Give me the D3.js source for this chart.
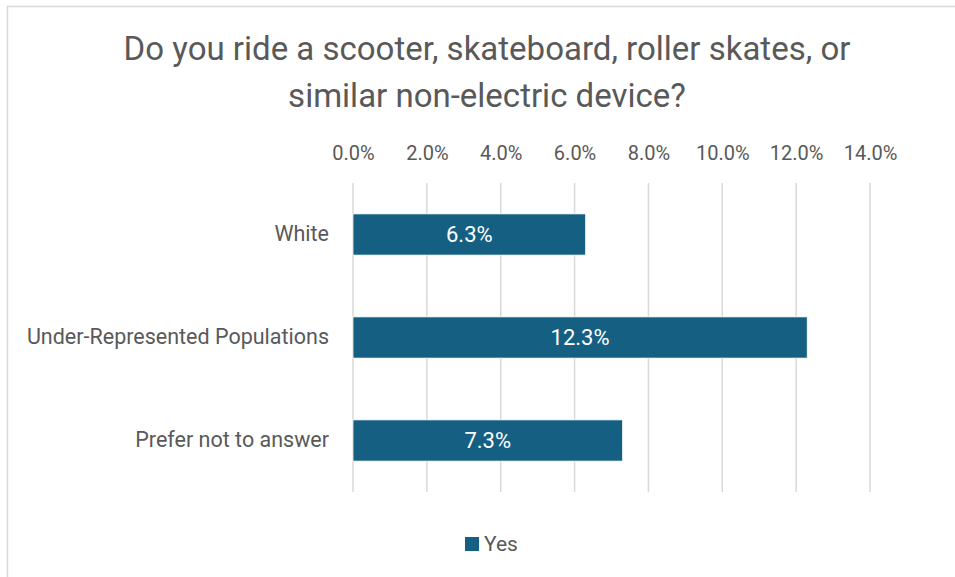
<!DOCTYPE html>
<html lang="en">
	<head>
		<meta charset="utf-8">
		<title>Non-electric device riders</title>
		<script src="https://d3js.org/d3.v7.min.js"></script>
		<style type="text/css">
			body, html {
				margin: 0;
				padding: 0;
				background: #ffffff;
			}
			text {
				font-family: Roboto, "Open Sans", sans-serif;
			}
		</style>
	</head>
	<body>
		<div id="chart"></div>
		<script type="text/javascript">

		var categories = ["White", "Under-Represented Populations", "Prefer not to answer"]
		var yesValues = [0.063, 0.123, 0.073]
		var tickValues = [0, 0.02, 0.04, 0.06, 0.08, 0.10, 0.12, 0.14]
		var seriesName = "Yes"
		var titleLines = ["Do you ride a scooter, skateboard, roller skates, or", "similar non-electric device?"]

		var width = 955, height = 577
		var margin = {top: 183, left: 353, right: 85, bottom: 85}
		var barColor = "#156082"

		var svg = d3.select("#chart").append("svg")
			.attr("width", width)
			.attr("height", height)

		// chart frame
		svg.append("rect")
			.attr("x", 7.5)
			.attr("y", 6.5)
			.attr("width", width + 20)
			.attr("height", height + 20)
			.attr("fill", "none")
			.attr("stroke", "#d9d9d9")
			.attr("stroke-width", 1.5)

		titleLines.forEach((t, i) => {
			svg.append("text")
				.text(t)
				.attr("x", 487)
				.attr("y", 60 + i * 47)
				.attr("text-anchor", "middle")
				.attr("font-size", "33px")
				.attr("fill", "#595959")
		})

		var xScale = d3.scaleLinear()
			.domain([0, 0.14])
			.range([margin.left, 870])

		var yScale = d3.scaleBand()
			.domain(categories)
			.range([margin.top, 492])
			.paddingInner(0.6)
			.paddingOuter(0.3)

		// gridlines
		svg.append("g")
			.selectAll("line")
			.data(tickValues)
			.join("line")
			.attr("x1", d => xScale(d))
			.attr("x2", d => xScale(d))
			.attr("y1", margin.top)
			.attr("y2", 492)
			.attr("stroke", "#d9d9d9")
			.attr("stroke-width", 1.5)

		// top axis labels
		var xAxis = svg.append("g")
			.attr("transform", "translate(0," + 160 + ")")
			.call(d3.axisTop(xScale)
				.tickValues(tickValues)
				.tickFormat(d3.format(".1%"))
				.tickSize(0)
				.tickPadding(0))
		xAxis.select(".domain").remove()
		xAxis.selectAll("text")
			.attr("font-size", "20px")
			.attr("fill", "#595959")
			.style("font-family", "Roboto, sans-serif")

		// category labels
		var yAxis = svg.append("g")
			.attr("transform", "translate(" + (margin.left - 24) + ",0)")
			.call(d3.axisLeft(yScale).tickSize(0).tickPadding(0))
		yAxis.select(".domain").remove()
		yAxis.selectAll("text")
			.attr("font-size", "21.5px")
			.attr("fill", "#595959")
			.style("font-family", "Roboto, sans-serif")

		var rows = categories.map((c, i) => ({cat: c, value: yesValues[i]}))

		svg.append("g")
			.selectAll("rect")
			.data(rows)
			.join("rect")
			.attr("x", xScale(0))
			.attr("y", d => yScale(d.cat))
			.attr("width", d => xScale(d.value) - xScale(0))
			.attr("height", yScale.bandwidth())
			.attr("fill", barColor)
			.attr("stroke", "#ffffff")
			.attr("stroke-width", 0.75)

		svg.append("g")
			.selectAll("text")
			.data(rows)
			.join("text")
			.text(d => d3.format(".1%")(d.value))
			.attr("x", d => (xScale(0) + xScale(d.value)) / 2)
			.attr("y", d => yScale(d.cat) + yScale.bandwidth() / 2)
			.attr("dy", "0.36em")
			.attr("text-anchor", "middle")
			.attr("font-size", "22px")
			.attr("fill", "#ffffff")

		// legend
		svg.append("rect")
			.attr("x", 465)
			.attr("y", 537)
			.attr("width", 14)
			.attr("height", 14)
			.attr("fill", barColor)

		svg.append("text")
			.text(seriesName)
			.attr("x", 484)
			.attr("y", 551)
			.attr("font-size", "21px")
			.attr("fill", "#595959")

		</script>
	</body>
</html>
